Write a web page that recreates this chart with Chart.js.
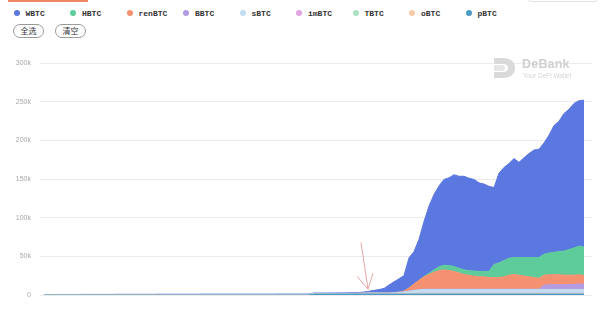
<!DOCTYPE html>
<html><head><meta charset="utf-8">
<script src="https://cdn.jsdelivr.net/npm/chart.js@4/dist/chart.umd.min.js"></script>
<style>
html,body{margin:0;padding:0;background:#fff;width:600px;height:323px;overflow:hidden;position:relative;font-family:"Liberation Sans",Arial,sans-serif}
#c{position:absolute;left:0;top:0}
#legend{position:absolute;left:0;top:7px;width:600px;height:12px}
.item{position:absolute;top:0;height:12px;display:flex;align-items:center;font:bold 8px "Liberation Mono",monospace;color:#333;white-space:nowrap}
.dot{width:6px;height:6px;border-radius:50%;margin-right:6px}
.btn{position:absolute;top:24px;height:12px;width:29px;border:1px solid #9a9a9a;border-radius:7px;font:8px "Noto Sans CJK SC",sans-serif;line-height:12px;text-align:center;color:#333;box-sizing:content-box}
.tab{position:absolute;left:8px;top:0;width:80px;height:2px;background:#ef8566}
.topbox{position:absolute;left:528px;top:-8px;width:68px;height:8px;border:1px solid #e2e2e2;border-radius:3px}
.wm{position:absolute;left:494px;top:57px;width:100px;height:26px}
.wm svg{position:absolute;left:0;top:1px}
.wm .t1{position:absolute;left:28px;top:0;font:bold 12.5px "Liberation Sans",Arial,sans-serif;color:#cfcfcf;letter-spacing:0.2px}
.wm .t2{position:absolute;left:29px;top:15px;font:6.5px "Liberation Sans",Arial,sans-serif;color:#d4d4d4}
</style></head>
<body>
<div class="tab"></div>
<div class="topbox"></div>
<div id="legend"></div>
<div class="btn" style="left:13px">全选</div>
<div class="btn" style="left:55px">清空</div>
<canvas id="c" width="600" height="323"></canvas>
<div class="wm">
  <svg width="22" height="20" viewBox="0 0 22 20"><path d="M0 0 H9 C17 0 21 4 21 10 C21 16 17 20 9 20 H0 V14 H9 C12 14 14 12.5 14 10 C14 7.5 12 6 9 6 H0 Z" fill="#dadada"/><path d="M0 7 H8 C10 7 11 8.3 11 10 C11 11.7 10 13 8 13 H0 Z" fill="#e6e6e6"/></svg>
  <div class="t1">DeBank</div>
  <div class="t2">Your DeFi Wallet</div>
</div>
<script>
// Legend order (top of stack first)
const names  = ['WBTC','HBTC','renBTC','BBTC','sBTC','imBTC','TBTC','oBTC','pBTC'];
const colors = ['#5b78e0','#5ecb9b','#f59171','#b39be0','#c3dcf0','#e1a3e3','#a9e2c3','#f7cca9','#4b9bc8'];

const WBTC = [0.6,0.6,0.6,0.7,0.7,0.7,0.7,0.7,0.8,0.8,
 0.8,0.8,0.8,0.8,0.8,0.9,0.9,0.9,0.9,0.9,
 0.9,0.9,0.9,1.0,1.0,1.0,1.0,1.0,1.0,1.0,
 1.0,1.0,1.1,1.1,1.1,1.1,0.5,0.5,0.5,0.5,
 0.5,0.5,0.5,0.5,0.5,0.5,0.5,0.6,0.6,0.6,
 0.6,0.6,0.6,0.6,0.7,0.7,0.7,0.8,0.8,0.9,
 0.9,1.0,1.0,1.1,1.6,2.3,3.5,4.5,6,10.5,
 14,17.4,20,39,42,53,71,87,97.5,104.5,
 111,113.5,118.5,119,121,119.5,118.5,114.5,113,110,
 99.5,116,120.5,122.5,128,123,129,134.5,139,140,
 144,152.5,164,168.5,178,181.5,187,188,189.8];
const HBTC = [0,0,0,0,0,0,0,0,0,0,
 0,0,0,0,0,0,0,0,0,0,
 0,0,0,0,0,0,0,0,0,0,
 0,0,0,0,0,0,0,0,0,0,
 0,0,0,0,0,0,0,0,0,0,
 0,0,0,0,0,0,0,0,0,0,
 0,0,0,0,0,0,0,0,0,0,
 0,0,0,0,0,0,0.5,1.5,3,5,
 6,6.5,6.5,6,6,6,6.5,7,7,8,
 17,19,21,22,22,23,24,25,26,27,
 27,28,29,30,31,33,35,37,37];
const renBTC = [0,0,0,0,0,0,0,0,0,0,
 0,0,0,0,0,0,0,0,0,0,
 0,0,0,0,0,0,0,0,0,0,
 0,0,0,0,0,0,0,0,0,0,
 0,0,0,0,0,0,0,0,0,0,
 0,0,0,0,0,0,0,0,0,0,
 0,0,0,0,0,0,0,0,0,0,
 0,0,1,4,8,12,16,19,22,24,
 25,24,23,21,19,18,17,16,16,15,
 15,15,16,18,19,18,17,16,15,14,
 13,13,13,13,12.5,12,12,12,11];
const BBTC = [0,0,0,0,0,0,0,0,0,0,
 0,0,0,0,0,0,0,0,0,0,
 0,0,0,0,0,0,0,0,0,0,
 0,0,0,0,0,0,0,0,0,0,
 0,0,0,0,0,0,0,0,0,0,
 0,0,0,0,0,0,0,0,0,0,
 0,0,0,0,0,0,0,0,0,0,
 0.3,0.3,0.3,0.3,0.3,0.3,0.3,0.3,0.3,0.3,
 0.3,0.3,0.3,0.3,0.3,0.3,0.3,0.3,0.3,0.3,
 0.3,0.3,0.3,0.3,0.3,0.3,0.3,0.3,0.3,0.3,
 5.5,6,6,6,6,6.5,6.5,7,7];
const sBTC = [0,0,0,0,0,0,0,0,0,0,
 0,0,0,0,0,0,0,0,0,0,
 0,0,0,0,0,0,0,0,0,0,
 0,0,0,0,0,0,0.6,0.6,0.6,0.6,
 0.6,0.6,0.6,0.6,0.6,0.6,0.6,0.6,0.6,0.6,
 0.6,0.6,0.6,0.6,0.6,0.6,0.6,0.6,0.6,0.6,
 0.6,0.6,0.6,1,1,1,1,1,1,1,
 1,1.5,2,3,4,4.5,5,5,5,5,
 5,5,5,5,5,5,5,5,5,5,
 5,5,5,5,5,5,5,5,5,5,
 5,5,5,5,5,5,5,5,5];
const imBTC = [0,0,0,0,0,0,0,0,0,0,
 0,0,0,0,0,0,0,0,0,0,
 0,0,0,0,0,0,0,0,0,0,
 0,0,0,0,0,0,0,0,0,0,
 0,0,0,0,0,0,0,0,0,0,
 0,0,0,0,0,0,0,0,0,0,
 0,0,0,0,0,0.3,0.3,0.3,0.3,0.3,
 0.3,0.3,0.3,0.3,0.3,0.3,0.3,0.3,0.3,0.3,
 0.3,0.3,0.3,0.3,0.3,0.3,0.3,0.3,0.3,0.3,
 0.3,0.3,0.3,0.3,0.3,0.3,0.3,0.3,0.3,0.3,
 0.3,0.3,0.3,0.3,0.3,0.3,0.3,0.3,0.3];
const TBTC = [0,0,0,0,0,0,0,0,0,0,
 0,0,0,0,0,0,0,0,0,0,
 0,0,0,0,0,0,0,0,0,0,
 0,0,0,0,0,0,0,0,0,0,
 0,0,0,0,0,0,0,0,0,0,
 0,0,0,0,0,0,0,0,0,0,
 0,0,0,0,0,0,0,0,0,0,
 0,0,0,0,0,0.4,0.4,0.4,0.4,0.4,
 0.4,0.4,0.4,0.4,0.4,0.4,0.4,0.4,0.4,0.4,
 0.4,0.4,0.4,0.4,0.4,0.4,0.4,0.4,0.4,0.4,
 0.4,0.4,0.4,0.4,0.4,0.4,0.4,0.4,0.4];
const oBTC = [0,0,0,0,0,0,0,0,0,0,
 0,0,0,0,0,0,0,0,0,0,
 0,0,0,0,0,0,0,0,0,0,
 0,0,0,0,0,0,0,0,0,0,
 0,0,0,0,0,0,0,0,0,0,
 0,0,0,0,0,0,0,0,0,0,
 0,0,0,0,0,0,0,0,0,0,
 0.3,0.3,0.3,0.3,0.3,0.3,0.3,0.3,0.3,0.3,
 0.3,0.3,0.3,0.3,0.3,0.3,0.3,0.3,0.3,0.3,
 0.3,0.3,0.3,0.3,0.3,0.3,0.3,0.3,0.3,0.3,
 0.3,0.3,0.3,0.3,0.3,0.3,0.3,0.3,0.3];
const pBTC = [0,0,0,0,0,0,0,0,0,0,
 0,0,0,0,0,0,0,0,0,0,
 0,0,0,0,0,0,0,0,0,0,
 0,0,0,0,0,0,0,0,0,0,
 0,0,0,0,0,0,0,0,0,0,
 0,0,0,0,1.2,1.2,1.2,1.2,1.2,1.2,
 1.2,1.2,1.2,1.2,1.2,1.2,1.2,1.2,1.2,1.2,
 1.2,1.2,1.2,1.2,1.2,1.2,1.2,1.2,1.2,1.2,
 1.2,1.2,1.2,1.2,1.2,1.2,1.2,1.2,1.2,1.2,
 1.2,1.2,1.2,1.2,1.2,1.2,1.2,1.2,1.2,1.2,
 1.2,1.2,1.2,1.2,1.2,1.2,1.2,1.2,1.2];

const yTicks = [0,50,100,150,200,250,300]; // thousands

const seriesByName = {WBTC,HBTC,renBTC,BBTC,sBTC,imBTC,TBTC,oBTC,pBTC};
const dayIndex = WBTC.map((v,i)=>i);

// HTML legend
const lg = document.getElementById('legend');
names.forEach((n,k)=>{
  const d = document.createElement('div');
  d.className='item';
  d.style.left = (13.5 + 56.5*k) + 'px';
  d.innerHTML = '<span class="dot" style="background:'+colors[k]+'"></span>'+n;
  lg.appendChild(d);
});

// datasets: bottom of stack first
const order = names.slice().reverse();
const datasets = order.map((n,i)=>{
  const c = colors[names.indexOf(n)];
  return {label:n, data:seriesByName[n], backgroundColor:c, borderColor:c, borderWidth:1,
          fill: i===0 ? 'origin' : '-1', pointRadius:0, tension:0};
});

const arrowPlugin = {
  id:'arrow',
  afterDatasetsDraw(chart){
    const xs = chart.scales.x, ys = chart.scales.y, ctx = chart.ctx;
    const tx = xs.getPixelForValue(64.8), ty = ys.getPixelForValue(7.5);
    const sx = xs.getPixelForValue(63.4), sy = ys.getPixelForValue(68);
    ctx.save();
    ctx.strokeStyle='#e9a3a3'; ctx.lineWidth=1;
    ctx.beginPath();
    ctx.moveTo(sx,sy); ctx.lineTo(tx,ty);
    ctx.moveTo(tx-11,ty-13); ctx.lineTo(tx,ty); ctx.lineTo(tx+5,ty-16);
    ctx.stroke();
    ctx.restore();
  }
};

new Chart(document.getElementById('c'),{
  type:'line',
  data:{labels:dayIndex, datasets},
  options:{
    responsive:false, animation:false, devicePixelRatio:1,
    layout:{padding:{top:63,bottom:28,left:0,right:8}},
    plugins:{legend:{display:false}, tooltip:{enabled:false}},
    scales:{
      x:{type:'linear', display:false, min:-0.8, max:109.6},
      y:{stacked:true, min:0, max:300,
         afterFit(s){s.width=40;},
         afterBuildTicks(s){s.ticks = yTicks.map(v=>({value:v}));},
         border:{display:false},
         grid:{color:'#ececec', drawTicks:false},
         ticks:{padding:9, color:'#a8a8a8', font:{size:7, family:'"Liberation Sans", Arial'},
                callback:v=> v===0 ? '0' : v+'k'}}
    }
  },
  plugins:[arrowPlugin]
});
</script>
</body></html>
